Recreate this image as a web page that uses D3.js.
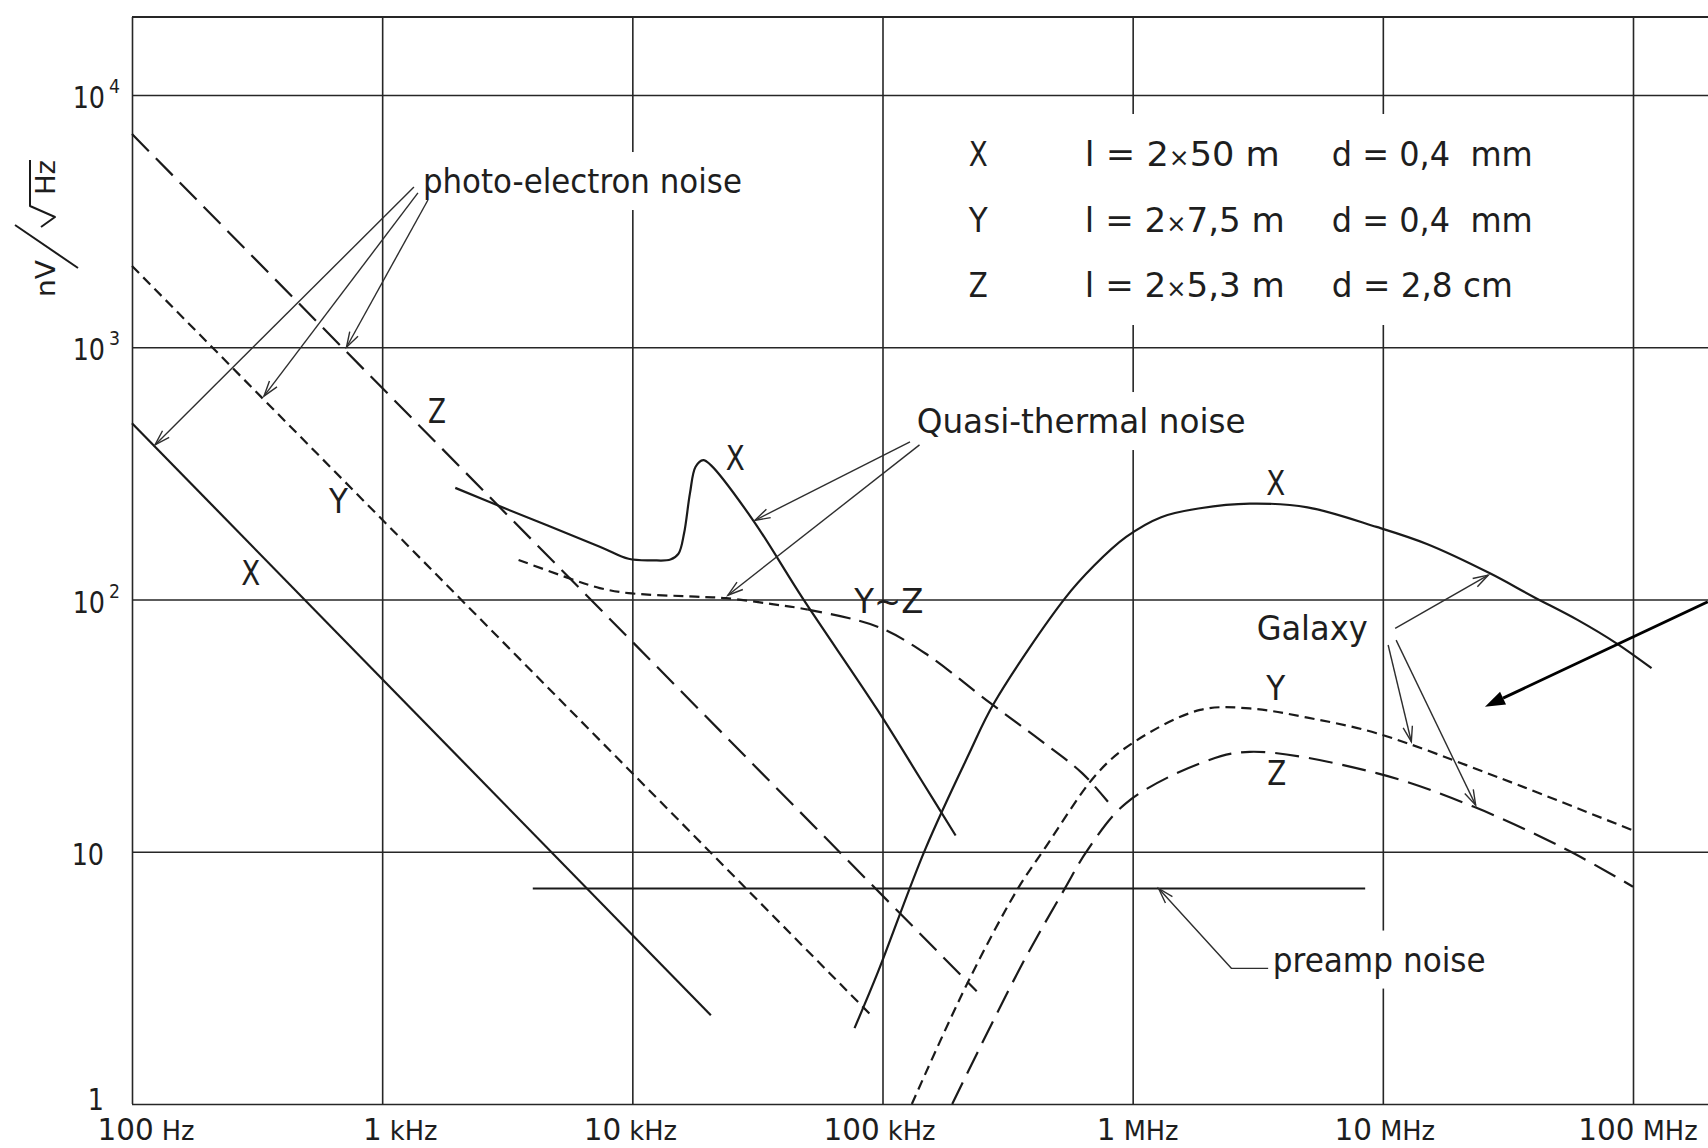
<!DOCTYPE html>
<html>
<head>
<meta charset="utf-8">
<title>Noise spectra</title>
<script src="https://cdn.jsdelivr.net/npm/d3@7/dist/d3.min.js"></script>
<style>
  html, body { margin: 0; padding: 0; background: #fff; }
  svg { display: block; }
  text { font-family: "DejaVu Sans", "Noto Sans", sans-serif; fill: #1e1e1e; }
</style>
</head>
<body>
<svg id="chart" width="1708" height="1148"></svg>
<script>
// ---- axis ticks ----
const freqTicks   = [1e2, 1e3, 1e4, 1e5, 1e6, 1e7, 1e8];
const freqNumber  = ["100", "1", "10", "100", "1", "10", "100"];
const freqUnit    = ["Hz", "kHz", "kHz", "kHz", "MHz", "MHz", "MHz"];
const ampTicks    = [1, 10, 100, 1000, 10000];
const ampMantissa = ["1", "10", "10", "10", "10"];
const ampExponent = ["", "", "2", "3", "4"];

// ---- spectra: [frequency in Hz, noise in nV/√Hz] ----
// photo-electron noise
const photoX = [[100, 500], [20600, 2.25]];
const photoY = [[100, 2100], [92000, 2.2]];
const photoZ = [[100, 7000], [238000, 2.8]];
// preamplifier noise floor
const preamp = [[4000, 7.15], [8500000, 7.15]];
// quasi-thermal noise
const qtnX = [[1960, 277], [2990, 233], [7410, 162], [9660, 145], [12000, 143], [14200, 144],
              [15300, 152], [16100, 183], [17000, 264], [17900, 336], [19200, 357], [20600, 341],
              [30300, 207], [48000, 101], [95500, 36.5], [143000, 19.2], [196000, 11.6]];
const qtnYZ = [[3510, 143.5], [5640, 121], [7410, 111], [9660, 106], [17900, 102.6], [23700, 101.2],
               [36200, 95.9], [51500, 90.8], [95500, 78], [148000, 61.2], [270000, 38.8],
               [427000, 27.7], [628000, 20.5], [817000, 15.3]];
// galactic background
const galaxyX = [[77300, 2.0], [95500, 3.3], [148000, 10.2], [222000, 24.5], [279000, 38.8],
                 [536000, 101], [700000, 136], [942000, 177], [1300000, 212], [1860000, 230],
                 [2940000, 240], [5000000, 232], [9440000, 194], [15000000, 166], [26800000, 127],
                 [39900000, 102.6], [60000000, 83], [85900000, 67], [118600000, 53.4]];
const galaxyY = [[131000, 1.0], [218000, 3.0], [345000, 7.05], [442000, 10.2], [723000, 20.5],
                 [1000000, 27], [1860000, 36.5], [2940000, 37], [5000000, 34], [9440000, 29.5],
                 [29400000, 19.6], [103000000, 12.0]];
const galaxyZ = [[190000, 1.0], [357000, 3.5], [536000, 7.16], [662000, 10.2], [942000, 15.6],
                 [1860000, 22.4], [2940000, 24.9], [9440000, 20.5], [23000000, 15.1],
                 [54200000, 10.2], [100000000, 7.27]];

// ---- antenna table ----
const antennas        = ["X", "Y", "Z"];
const antennaLength   = ["2×50 m", "2×7,5 m", "2×5,3 m"];
const antennaDiameter = ["0,4  mm", "0,4  mm", "2,8 cm"];

// ---- chart frame ----
const W = 1708, H = 1148;
const svg = d3.select("#chart");
const x = d3.scaleLog().domain([1e2, 1e8]).range([132, 1633]);
const y = d3.scaleLog().domain([1, 1e4]).range([1104, 95]);
const frameLeft = x(1e2), frameRight = W, frameBottom = y(1), frameTop = 17;

const gGrid   = svg.append("g");
const gKnock  = svg.append("g");
const gCurves = svg.append("g");
const gNotes  = svg.append("g");
const gText   = svg.append("g");

const ink = "#1a1a1a";

// vertical grid lines (one per decade)
gGrid.append("g")
  .attr("transform", `translate(0,${frameBottom})`)
  .call(d3.axisBottom(x).tickValues(freqTicks).tickSize(-(frameBottom - frameTop)).tickSizeOuter(0).tickFormat(() => ""))
  .call(g => g.select(".domain").remove())
  .call(g => g.selectAll("line").attr("stroke", "#262626").attr("stroke-width", 1.6));

// horizontal grid lines
gGrid.append("g")
  .attr("transform", `translate(${frameLeft},0)`)
  .call(d3.axisLeft(y).tickValues(ampTicks).tickSize(-(frameRight - frameLeft)).tickSizeOuter(0).tickFormat(() => ""))
  .call(g => g.select(".domain").remove())
  .call(g => g.selectAll("line").attr("stroke", "#262626").attr("stroke-width", 1.6));

// top edge of the frame
gGrid.append("line")
  .attr("x1", frameLeft).attr("x2", frameRight).attr("y1", frameTop).attr("y2", frameTop)
  .attr("stroke", "#262626").attr("stroke-width", 1.8);

// ---- frequency labels (hand-lettered, so each sits a little off its grid line) ----
const freqLabelNudge = [14, 18, -2, -3, 5, 2, 5];
gText.selectAll("text.freq")
  .data(freqTicks)
  .join("text")
  .attr("class", "freq")
  .attr("x", (d, i) => x(d) + freqLabelNudge[i])
  .attr("y", 1140)
  .attr("text-anchor", "middle")
  .each(function (d, i) {
    const t = d3.select(this);
    t.append("tspan").attr("font-size", 31).text(freqNumber[i]);
    t.append("tspan").attr("font-size", 27).text(" " + freqUnit[i]);
    const n = this.getComputedTextLength();
    t.attr("textLength", n * 0.95).attr("lengthAdjust", "spacingAndGlyphs");
  });

// ---- amplitude labels: mantissa, then a separate raised exponent ----
gText.selectAll("text.amp")
  .data(ampTicks)
  .join("text")
  .attr("class", "amp")
  .attr("text-anchor", "end")
  .attr("x", (d, i) => ampExponent[i] ? 105 : 104)
  .attr("y", (d, i) => y(d) + (i === 0 ? 6 : 13))
  .attr("font-size", 31)
  .text((d, i) => ampMantissa[i])
  .each(function () {
    const n = this.getComputedTextLength();
    d3.select(this).attr("textLength", n * 0.82).attr("lengthAdjust", "spacingAndGlyphs");
  });
gText.selectAll("text.ampExp")
  .data(ampTicks.filter((d, i) => ampExponent[i]))
  .join("text")
  .attr("class", "ampExp")
  .attr("x", 109)
  .attr("y", d => y(d) - 2)
  .attr("font-size", 20)
  .attr("textLength", 11).attr("lengthAdjust", "spacingAndGlyphs")
  .text(d => ampExponent[ampTicks.indexOf(d)]);

// ---- vertical axis title: nV / √Hz ----
const yt = gText.append("g").attr("transform", "translate(55,297) rotate(-90)");
yt.append("text").attr("x", 0).attr("y", 0).attr("font-size", 27)
  .attr("textLength", 37).attr("lengthAdjust", "spacingAndGlyphs").text("nV");
yt.append("line").attr("x1", 29).attr("y1", 23).attr("x2", 72).attr("y2", -40)
  .attr("stroke", ink).attr("stroke-width", 2);
yt.append("path").attr("d", "M70,-14 L80,0 L91,-25 L137,-25")
  .attr("fill", "none").attr("stroke", ink).attr("stroke-width", 2).attr("stroke-linejoin", "round");
yt.append("text").attr("x", 102).attr("y", 0).attr("font-size", 27)
  .attr("textLength", 35).attr("lengthAdjust", "spacingAndGlyphs").text("Hz");

// ---- curves ----
const straight = d3.line().x(d => x(d[0])).y(d => y(d[1]));
const smooth = d3.line().x(d => x(d[0])).y(d => y(d[1])).curve(d3.curveCatmullRom.alpha(0.5));

const SHORT = "10,6", LONG = "24,10", MEDIUM = "20,9";

function curve(data, gen, dash, clip) {
  const p = gCurves.append("path")
    .attr("d", gen(data))
    .attr("fill", "none")
    .attr("stroke", ink)
    .attr("stroke-width", 2.2)
    .attr("stroke-linejoin", "round");
  if (dash) p.attr("stroke-dasharray", dash);
  if (clip) p.attr("clip-path", `url(#${clip})`);
  return p;
}

// clip regions so the Y~Z curve changes dash length along its run
const defs = svg.append("defs");
const split = x(50000);
defs.append("clipPath").attr("id", "lowF").append("rect")
  .attr("x", 0).attr("y", 0).attr("width", split).attr("height", H);
defs.append("clipPath").attr("id", "highF").append("rect")
  .attr("x", split).attr("y", 0).attr("width", W - split).attr("height", H);

curve(photoX, straight);
curve(photoY, straight, SHORT);
curve(photoZ, straight, LONG);
curve(preamp, straight);
curve(qtnX, smooth);
curve(qtnYZ, smooth, SHORT, "lowF");
curve(qtnYZ, smooth, MEDIUM, "highF");
curve(galaxyX, smooth);
curve(galaxyY, smooth, SHORT);
curve(galaxyZ, smooth, LONG);

// ---- annotation pointers ----
const pointers = [
  [[1340, 4318], [123.6, 410]],
  [[1390, 4090], [337, 640]],
  [[1524, 3836], [720, 1000]],
  [[128800, 422], [30900, 206]],
  [[140600, 410], [24100, 104]],
  [[11200000, 76.9], [26400000, 125]],
  [[10500000, 66], [13000000, 27.3]],
  [[11300000, 69], [23500000, 15.3]],
  [[3480000, 3.45], [2480000, 3.45], [1270000, 7.15]]
];
const sideArrow = [[199000000, 98], [25600000, 37.6]];

function pointer(pts) {
  const P = pts.map(d => [x(d[0]), y(d[1])]);
  gNotes.append("path").attr("d", d3.line()(P))
    .attr("fill", "none").attr("stroke", "#2e2e2e").attr("stroke-width", 1.4);
  const [x1, y1] = P[P.length - 2], [x2, y2] = P[P.length - 1];
  const a = Math.atan2(y2 - y1, x2 - x1), L = 16, th = 0.3;
  const barbs = [-1, 1].map(s => [x2 - L * Math.cos(a + s * th), y2 - L * Math.sin(a + s * th)]);
  gNotes.append("path").attr("d", d3.line()([barbs[0], [x2, y2], barbs[1]]))
    .attr("fill", "none").attr("stroke", "#2e2e2e").attr("stroke-width", 1.4);
}
pointers.forEach(pointer);

(function () {
  const [p0, p1] = sideArrow.map(d => [x(d[0]), y(d[1])]);
  const a = Math.atan2(p1[1] - p0[1], p1[0] - p0[0]), L = 20, w = 7;
  const base = [p1[0] - L * Math.cos(a), p1[1] - L * Math.sin(a)];
  gNotes.append("line").attr("x1", p0[0]).attr("y1", p0[1]).attr("x2", base[0]).attr("y2", base[1])
    .attr("stroke", "#000").attr("stroke-width", 2.8);
  const head = [
    p1,
    [base[0] + w * Math.sin(a), base[1] - w * Math.cos(a)],
    [base[0] - w * Math.sin(a), base[1] + w * Math.cos(a)]
  ];
  gNotes.append("path").attr("d", "M" + head.join("L") + "Z").attr("fill", "#000");
})();

// ---- annotation texts ----
const notes = [
  { text: "photo-electron noise", at: [1455, 4087], width: 319, clear: true },
  { text: "Quasi-thermal noise",  at: [137000, 457], width: 329, clear: true },
  { text: "Galaxy",               at: [3130000, 69.1], width: 111, clear: false },
  { text: "preamp noise",         at: [3630000, 3.35], width: 213, clear: true }
];
const curveTags = [
  { text: "X",   at: [298, 114],       width: 19 },
  { text: "Y",   at: [669, 220],       width: 19 },
  { text: "Z",   at: [1656, 501],      width: 18 },
  { text: "X",   at: [25800, 326],     width: 19 },
  { text: "Y~Z", at: [106000, 88.4],   width: 69 },
  { text: "X",   at: [3735000, 260],   width: 19 },
  { text: "Y",   at: [3735000, 40],    width: 19 },
  { text: "Z",   at: [3770000, 18.4],  width: 19 }
];

const knockouts = [];
notes.forEach(n => {
  const t = gText.append("text")
    .attr("x", x(n.at[0])).attr("y", y(n.at[1]))
    .attr("font-size", 34)
    .attr("textLength", n.width).attr("lengthAdjust", "spacingAndGlyphs")
    .text(n.text);
  if (n.clear) knockouts.push([t.node(), 6, 9]);
});
curveTags.forEach(n => {
  gText.append("text")
    .attr("x", x(n.at[0])).attr("y", y(n.at[1]))
    .attr("font-size", 34).attr("text-anchor", "middle")
    .attr("textLength", n.width).attr("lengthAdjust", "spacingAndGlyphs")
    .text(n.text);
});

// ---- antenna table ----
const legendCols = [221400, 644000, 6250000];
const legendRows = [5230, 2863, 1582];
const legend = gText.append("g");
antennas.forEach((a, i) => {
  const yy = y(legendRows[i]);
  legend.append("text").attr("x", x(legendCols[0])).attr("y", yy).attr("font-size", 34)
    .attr("textLength", 19).attr("lengthAdjust", "spacingAndGlyphs").text(a);
  const lt = legend.append("text").attr("x", x(legendCols[1])).attr("y", yy).attr("font-size", 34);
  const parts = antennaLength[i].split("×");
  lt.append("tspan").text("l = " + parts[0]);
  lt.append("tspan").attr("font-size", 24).text("×");
  lt.append("tspan").text(parts[1]);
  lt.attr("textLength", i === 0 ? 195 : 200).attr("lengthAdjust", "spacingAndGlyphs");
  legend.append("text").attr("x", x(legendCols[2])).attr("y", yy).attr("font-size", 34)
    .attr("textLength", i === 2 ? 181 : 201).attr("lengthAdjust", "spacingAndGlyphs")
    .style("white-space", "pre")
    .text("d = " + antennaDiameter[i]);
});
knockouts.push([legend.node(), 12, 20]);

// clear grid lines behind text blocks
knockouts.forEach(([node, px, py]) => {
  const b = node.getBBox();
  gKnock.append("rect")
    .attr("x", b.x - px).attr("y", b.y - py)
    .attr("width", b.width + 2 * px).attr("height", b.height + 2 * py)
    .attr("fill", "#fff");
});
</script>
</body>
</html>
